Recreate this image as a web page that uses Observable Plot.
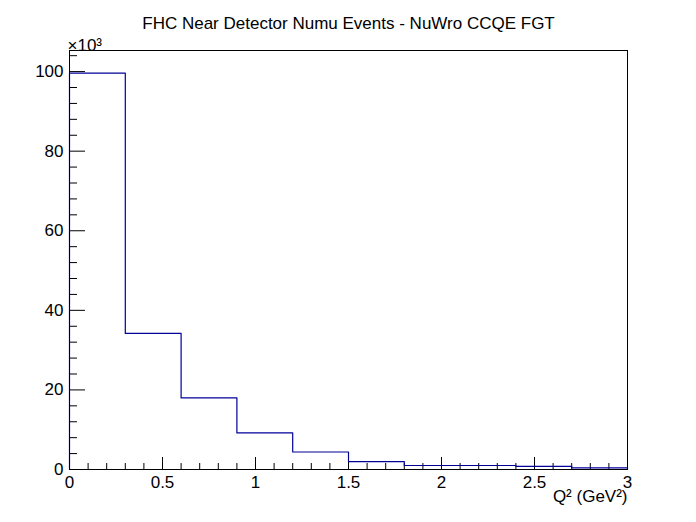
<!DOCTYPE html>
<html>
<head>
<meta charset="UTF-8">
<script src="https://cdn.jsdelivr.net/npm/d3@7"></script>
<script src="https://cdn.jsdelivr.net/npm/@observablehq/plot@0.6"></script>
<style>
  body { margin: 0; background: #fff; }
  svg { font-family: "Liberation Sans", Arial, sans-serif; }
</style>
</head>
<body>
<div id="chart"></div>
<script>
// bin edges (GeV^2) and counts (x10^3)
const binLow = [0, 0.3, 0.6, 0.9, 1.2, 1.5, 1.8, 2.1, 2.4, 2.7];
const counts = [99.6, 34.2, 18.0, 9.2, 4.4, 2.0, 1.0, 1.0, 0.8, 0.4];
const binWidth = 0.3;
const yMajor = [0, 20, 40, 60, 80, 100];
const xMajor = [0, 0.5, 1, 1.5, 2, 2.5, 3];

// step outline of the histogram
const steps = [];
binLow.forEach((x, i) => {
  steps.push({x, y: counts[i]});
  steps.push({x: x + binWidth, y: counts[i]});
});
steps.unshift({x: 0, y: 0});
steps.push({x: 3, y: 0});

const yMinor = d3.range(0, 105, 4).filter(v => v % 20 !== 0);
const xMinor = d3.range(0, 31).map(v => v / 10).filter(v => !xMajor.includes(v));

const xMax = 3, yMax = 105.3;
const pxX = xMax / 558, pxY = yMax / 419;

const chart = Plot.plot({
  width: 696, height: 522,
  marginLeft: 69, marginRight: 69, marginTop: 50, marginBottom: 53,
  x: {domain: [0, xMax]},
  y: {domain: [0, yMax]},
  style: {fontSize: "16px", color: "#000"},
  marks: [
    Plot.axisX(xMajor, {tickSize: 0, tickPadding: 6, label: null, fontSize: 17, tickFormat: d => String(d)}),
    Plot.axisY(yMajor, {tickSize: 0, tickPadding: 6, label: null, fontSize: 17}),
    Plot.ruleY(yMajor, {x1: 0, x2: 16 * pxX, stroke: "#000"}),
    Plot.ruleY(yMinor, {x1: 0, x2: 8 * pxX, stroke: "#000"}),
    Plot.ruleX(xMajor, {y1: 0, y2: 12 * pxY, stroke: "#000"}),
    Plot.ruleX(xMinor, {y1: 0, y2: 6 * pxY, stroke: "#000"}),
    Plot.line(steps, {x: "x", y: "y", stroke: "#000099", strokeWidth: 1.2, curve: "linear"}),
    Plot.frame({stroke: "#000"}),
    Plot.text(["FHC Near Detector Numu Events - NuWro CCQE FGT"], {frameAnchor: "top", dy: -34, fontSize: 17}),
    Plot.text(["×10³"], {frameAnchor: "top-left", dy: -12, dx: -2, textAnchor: "start", fontSize: 17}),
    Plot.text(["Q² (GeV²)"], {frameAnchor: "bottom-right", dy: 32, textAnchor: "end", fontSize: 17})
  ]
});
document.getElementById("chart").appendChild(chart);
</script>
</body>
</html>
